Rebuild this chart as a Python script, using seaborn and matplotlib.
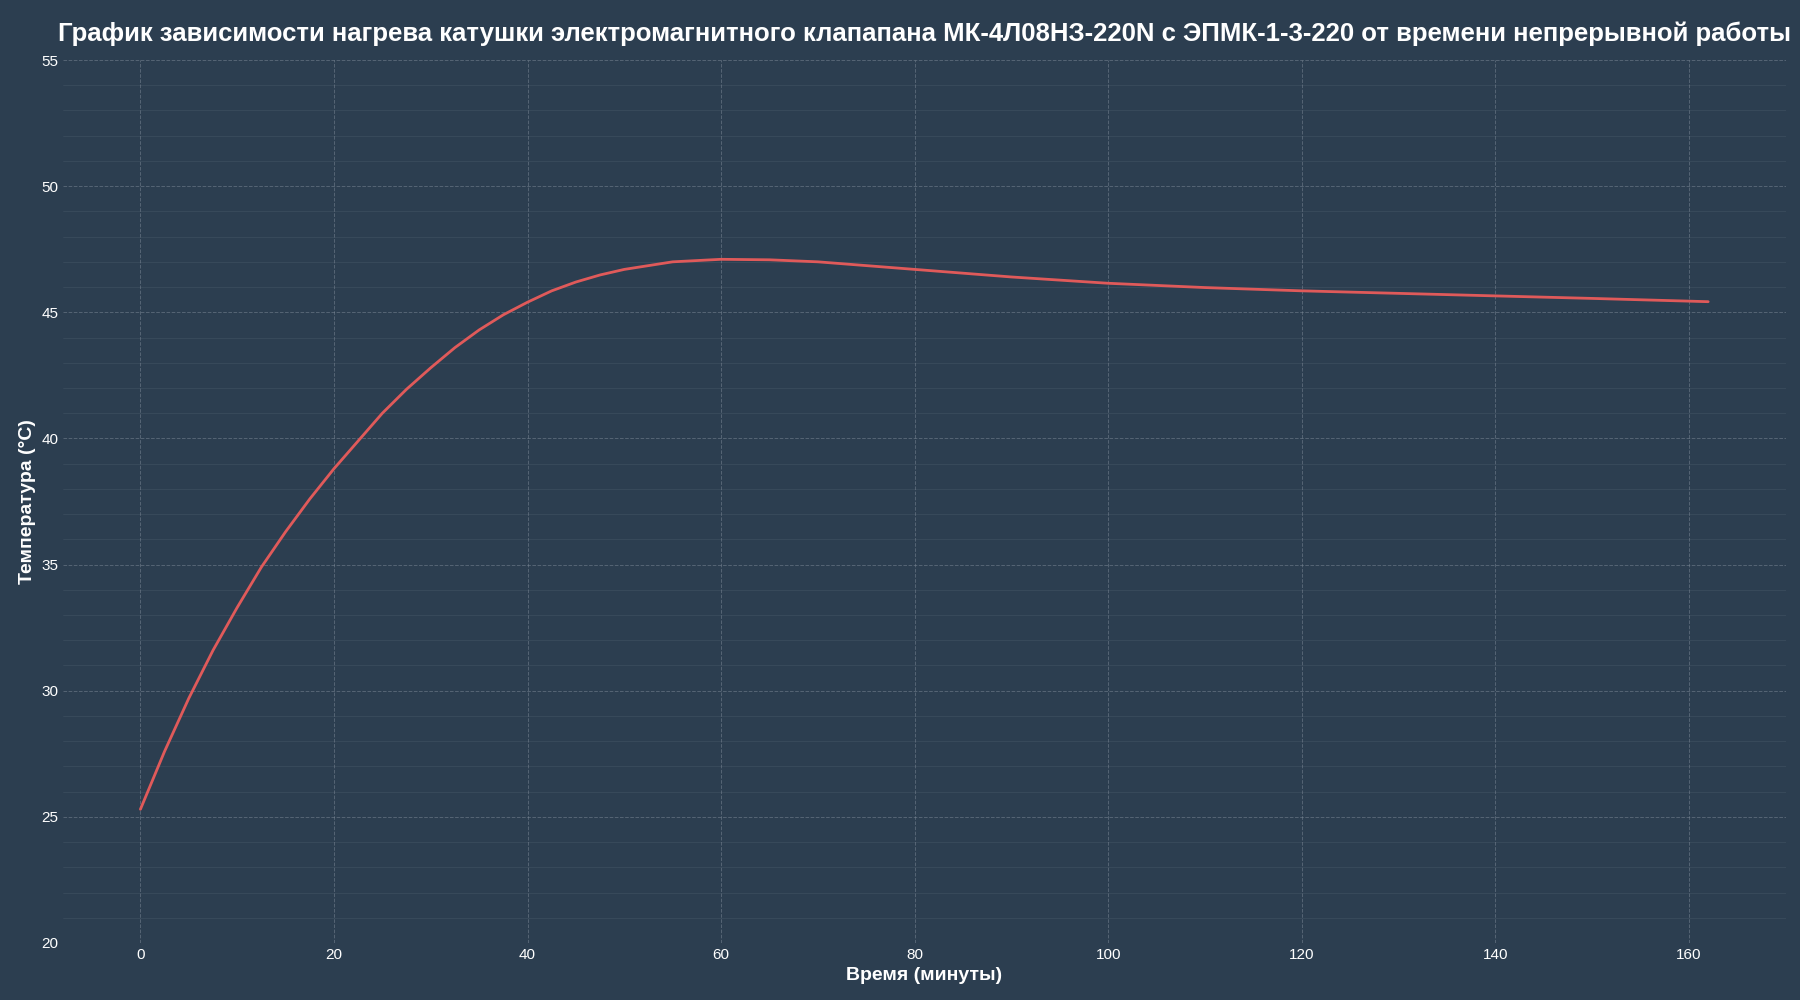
import matplotlib
matplotlib.use("Agg")
import matplotlib.pyplot as plt
import seaborn as sns
import pandas as pd
from matplotlib.ticker import MultipleLocator

time_min = [0, 2.5, 5, 7.5, 10, 12.5, 15, 17.5, 20, 22.5, 25, 27.5, 30, 32.5, 35, 37.5, 40, 42.5, 45, 47.5, 50, 55, 60, 65, 70, 75, 80, 90, 100, 110, 120, 130, 140, 150, 162]
temp_c = [25.3, 27.6, 29.7, 31.6, 33.3, 34.9, 36.3, 37.6, 38.8, 39.9, 41.0, 41.95, 42.8, 43.6, 44.3, 44.9, 45.4, 45.85, 46.2, 46.48, 46.7, 47.0, 47.1, 47.08, 47.0, 46.85, 46.7, 46.4, 46.15, 45.98, 45.85, 45.75, 45.65, 45.55, 45.42]

df = pd.DataFrame({"t": time_min, "T": temp_c})
bg = "#2c3e50"
sns.set_theme(style="dark")
plt.rcParams["font.family"] = ["Arial", "Liberation Sans", "DejaVu Sans"]

fig, ax = plt.subplots(figsize=(18, 10), dpi=100)
fig.patch.set_facecolor(bg)
ax.set_facecolor(bg)
sns.lineplot(data=df, x="t", y="T", ax=ax, color="#e05a5a", linewidth=2.0)

ax.set_xlim(-8, 170)
ax.set_ylim(20, 55)
ax.xaxis.set_major_locator(MultipleLocator(20))
ax.yaxis.set_major_locator(MultipleLocator(5))
ax.yaxis.set_minor_locator(MultipleLocator(1))
ax.grid(which="major", color="#7f8c9a", linestyle="--", linewidth=0.7, alpha=0.5)
ax.grid(which="minor", axis="y", color="#7f8c9a", linestyle="-", linewidth=0.5, alpha=0.2)
for s in ax.spines.values():
    s.set_visible(False)
ax.tick_params(colors="white", labelsize=11, length=0)
ax.set_xlabel("Время (минуты)", color="white", fontsize=14, fontweight="bold")
ax.set_ylabel("Температура (°C)", color="white", fontsize=14, fontweight="bold")
ax.set_title("График зависимости нагрева катушки электромагнитного клапапана МК-4Л08НЗ-220N с ЭПМК-1-3-220 от времени непрерывной работы",
             color="white", fontsize=18.5, fontweight="bold", pad=14)
fig.subplots_adjust(left=0.035, right=0.992, top=0.94, bottom=0.057)
fig.savefig("out.png", dpi=100, facecolor=bg)
